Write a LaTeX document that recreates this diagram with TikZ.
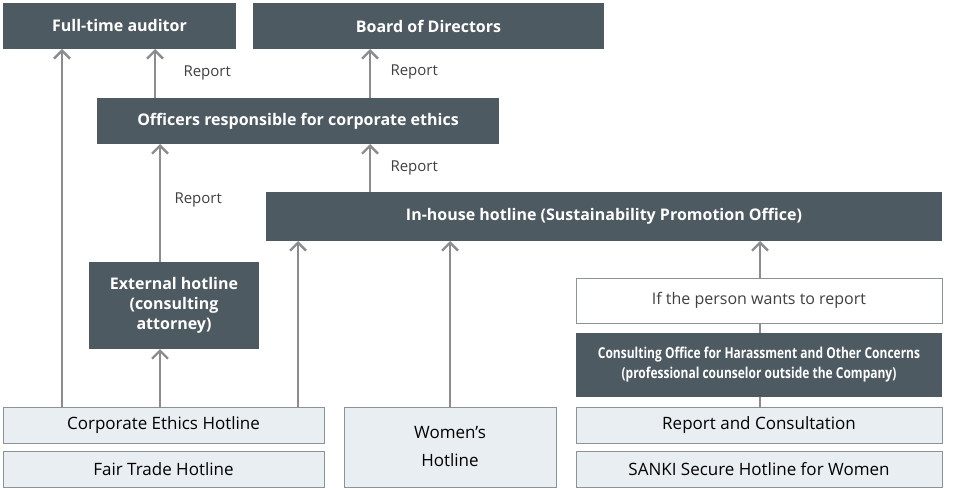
\documentclass[tikz,border=0pt]{standalone}
\usepackage{fontspec}
\setmainfont{Open Sans}
\usetikzlibrary{arrows.meta}
\definecolor{dark}{HTML}{4E5A61}
\definecolor{lite}{HTML}{E9EEF2}
\definecolor{ln}{HTML}{8C8C8C}
\definecolor{bd}{HTML}{8A9398}
\tikzset{
 darkbox/.style={fill=dark,text=white,font=\fontsize{16}{19}\selectfont\bfseries,inner sep=0pt,align=center},
 litebox/.style={fill=lite,draw=bd,line width=1pt,font=\fontsize{17}{24}\selectfont,inner sep=0pt,align=center},
 whitebox/.style={fill=white,draw=bd,line width=1pt,font=\fontsize{16}{19}\selectfont,text=black!75,inner sep=0pt},
 arr/.style={draw=ln,line width=2.6pt,-{Straight Barb[length=8pt,width=16pt,line width=2.4pt]}},
 ln/.style={draw=ln,line width=2.6pt},
 rep/.style={font=\fontsize{15}{18}\selectfont,text=black!75,anchor=west}
}
\newcommand{\bx}[6]{\node[#1,minimum width=#4-#2,minimum height=#5-#3] (#6) at ({(#2+#4)/2},{(#3+#5)/2}) {};}
\begin{document}
\begin{tikzpicture}[x=1pt,y=-1pt]
\useasboundingbox (0,0) rectangle (960,489);
% connectors first
\coordinate (c1) at (62,407); \coordinate (t1) at (62,49);
\draw[arr] (c1) -- (t1);
\draw[arr] (155,98) -- (155,49);
\draw[arr] (370,98) -- (370,49);
\draw[arr] (370,192) -- (370,144);
\draw[arr] (160,262) -- (160,144);
\draw[arr] (160,407) -- (160,349);
\draw[arr] (298,407) -- (298,241);
\draw[arr] (450,407) -- (450,241);
\draw[arr] (760,407) -- (760,241);
% boxes
\bx{darkbox}{3}{3}{236}{49}{fa}
\node[text=white,font=\fontsize{16}{19}\selectfont\bfseries] at (fa) {Full-time auditor};
\bx{darkbox}{253}{3}{604}{49}{bod}
\node[text=white,font=\fontsize{16}{19}\selectfont\bfseries] at (bod) {Board of Directors};
\bx{darkbox}{97}{98}{499}{144}{off}
\node[text=white,font=\fontsize{16}{19}\selectfont\bfseries] at (off) {Officers responsible for corporate ethics};
\bx{darkbox}{266}{192}{942}{241}{inh}
\node[text=white,font=\fontsize{16}{19}\selectfont\bfseries] at (inh) {In-house hotline (Sustainability Promotion Office)};
\bx{darkbox}{89}{262}{259}{349}{ext}
\node[text=white,font=\fontsize{16}{20}\selectfont\bfseries,align=center] at (ext) {External hotline\\(consulting\\attorney)};
\bx{whitebox}{576}{278}{942}{323}{ifp}
\node[text=black!75,font=\fontsize{16}{19}\selectfont] at (ifp) {If the person wants to report};
\bx{darkbox}{576}{333}{942}{397}{cons}
\node[text=white,font=\fontsize{15}{20}\selectfont\bfseries,align=center] at (cons) {\scalebox{0.8}[1]{Consulting Office for Harassment and Other Concerns}\\\scalebox{0.8}[1]{(professional counselor outside the Company)}};
\bx{litebox}{3}{407}{324}{443}{ceh}
\node[font=\fontsize{17}{20}\selectfont] at (ceh) {Corporate Ethics Hotline};
\bx{litebox}{3}{451}{324}{487}{fth}
\node[font=\fontsize{17}{20}\selectfont] at (fth) {Fair Trade Hotline};
\bx{litebox}{344}{407}{556}{487}{wh}
\node[font=\fontsize{17}{28}\selectfont,align=center] at (wh) {Women’s\\Hotline};
\bx{litebox}{576}{407}{942}{443}{rc}
\node[font=\fontsize{17}{20}\selectfont] at (rc) {Report and Consultation};
\bx{litebox}{576}{451}{942}{487}{ss}
\node[font=\fontsize{17}{20}\selectfont] at (ss) {SANKI Secure Hotline for Women};
% labels
\node[rep] at (180,73) {Report};
\node[rep] at (387,72) {Report};
\node[rep] at (387,168) {Report};
\node[rep] at (171,200) {Report};
\end{tikzpicture}
\end{document}
